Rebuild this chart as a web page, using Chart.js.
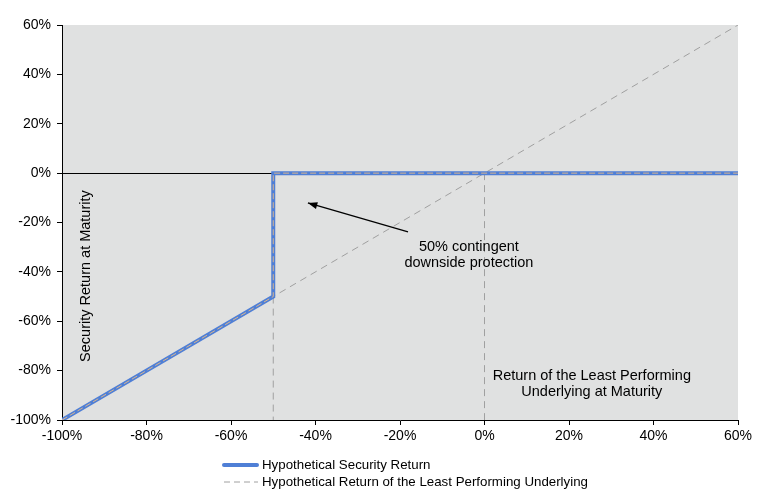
<!DOCTYPE html>
<html>
<head>
<meta charset="utf-8">
<script src="https://cdn.jsdelivr.net/npm/chart.js@4.4.1/dist/chart.umd.min.js"></script>
<style>
  html, body { margin: 0; padding: 0; background: #fff; }
  #wrap { width: 768px; height: 490px; position: relative; }
</style>
</head>
<body>
<div id="wrap"><canvas id="chart"></canvas></div>
<script>
// values (percent)
const tickValues = [-100, -80, -60, -40, -20, 0, 20, 40, 60];
const securityX = [-100, -50, -50, 60];
const securityY = [-100, -50, 0, 0];
const underlyingX = [-100, 60];
const underlyingY = [-100, 60];
const barrierX = [-50, -50];
const barrierY = [-50, -100];
const strikeX = [0, 0];
const strikeY = [0, -100];

const seriesLabels = ['Hypothetical Security Return', 'Hypothetical Return of the Least Performing Underlying'];

const FONT = '"Liberation Sans", Arial, sans-serif';
const pts = (xs, ys) => xs.map((x, i) => ({ x: x, y: ys[i] }));

const plotBg = {
    id: 'plotBg',
    beforeDraw(chart) {
        const { ctx, chartArea: a } = chart;
        ctx.save();
        ctx.fillStyle = '#e0e1e1';
        ctx.fillRect(a.left, a.top, a.right - a.left, a.bottom - a.top);
        ctx.restore();
    }
};

const notes = {
    id: 'notes',
    afterDatasetsDraw(chart) {
        const { ctx, scales: { x, y } } = chart;
        ctx.save();
        ctx.fillStyle = '#000';
        ctx.font = '14.5px ' + FONT;
        ctx.textAlign = 'center';
        ctx.textBaseline = 'middle';
        // arrow
        const x0 = x.getPixelForValue(-18.1), y0 = y.getPixelForValue(-23.8);
        const x1 = x.getPixelForValue(-41.8), y1 = y.getPixelForValue(-12.1);
        ctx.strokeStyle = '#000';
        ctx.lineWidth = 1.3;
        ctx.beginPath(); ctx.moveTo(x0, y0); ctx.lineTo(x1, y1); ctx.stroke();
        const ang = Math.atan2(y1 - y0, x1 - x0);
        ctx.beginPath();
        ctx.moveTo(x1, y1);
        ctx.lineTo(x1 - 10 * Math.cos(ang - 0.35), y1 - 10 * Math.sin(ang - 0.35));
        ctx.lineTo(x1 - 10 * Math.cos(ang + 0.35), y1 - 10 * Math.sin(ang + 0.35));
        ctx.closePath(); ctx.fill();

        const cx = x.getPixelForValue(-3.7);
        ctx.fillText('50% contingent', cx, 247);
        ctx.fillText('downside protection', cx, 263);

        const rx = x.getPixelForValue(25.4);
        ctx.fillText('Return of the Least Performing', rx, 376);
        ctx.fillText('Underlying at Maturity', rx, 392);

        ctx.translate(x.getPixelForValue(-94.3), y.getPixelForValue(-41.7));
        ctx.rotate(-Math.PI / 2);
        ctx.fillText('Security Return at Maturity', 0, 0);
        ctx.restore();
    }
};

const bottomLegend = {
    id: 'bottomLegend',
    afterDraw(chart) {
        const ctx = chart.ctx;
        ctx.save();
        ctx.font = '13.3px ' + FONT;
        ctx.textBaseline = 'middle';
        ctx.fillStyle = '#000';
        // security
        ctx.strokeStyle = '#4f7fd6';
        ctx.lineWidth = 4;
        ctx.lineCap = 'round';
        ctx.beginPath(); ctx.moveTo(224, 465); ctx.lineTo(257, 465); ctx.stroke();
        ctx.fillText(seriesLabels[0], 262, 465);
        // underlying
        ctx.strokeStyle = '#a0a0a0';
        ctx.lineWidth = 1;
        ctx.lineCap = 'butt';
        ctx.setLineDash([6, 4]);
        ctx.beginPath(); ctx.moveTo(224, 482); ctx.lineTo(258, 482); ctx.stroke();
        ctx.fillText(seriesLabels[1], 262, 482);
        ctx.restore();
    }
};

new Chart(document.getElementById('chart'), {
    type: 'scatter',
    data: {
        datasets: [
            // first dataset is painted last (on top)
            { label: 'inner', data: pts(securityX, securityY), showLine: true, borderColor: '#d8b58e', borderWidth: 1, borderDash: [6, 3], pointRadius: 0 },
            { label: seriesLabels[0], data: pts(securityX, securityY), showLine: true, borderColor: '#4f7fd6', borderWidth: 4, pointRadius: 0 },
            { label: seriesLabels[1], data: pts(underlyingX, underlyingY), showLine: true, borderColor: '#a0a0a0', borderWidth: 1, borderDash: [7, 5], pointRadius: 0 },
            { label: 'barrier', data: pts(barrierX, barrierY), showLine: true, borderColor: '#a0a0a0', borderWidth: 1, borderDash: [7, 5], pointRadius: 0 },
            { label: 'strike', data: pts(strikeX, strikeY), showLine: true, borderColor: '#a0a0a0', borderWidth: 1, borderDash: [7, 5], pointRadius: 0 }
        ]
    },
    options: {
        responsive: true,
        maintainAspectRatio: false,
        animation: false,
        layout: { padding: { top: 25, right: 30, bottom: 40, left: 0 } },
        plugins: { legend: { display: false }, tooltip: { enabled: false } },
        scales: {
            x: {
                type: 'linear', min: -100, max: 60,
                afterBuildTicks: s => { s.ticks = tickValues.map(v => ({ value: v })); },
                afterFit: s => { s.height = 30; },
                border: { color: '#000', width: 1 },
                grid: { drawOnChartArea: false, color: '#000', tickLength: 5 },
                ticks: { color: '#000', font: { family: FONT, size: 14 }, padding: 3, maxRotation: 0, callback: v => v + '%' }
            },
            y: {
                type: 'linear', min: -100, max: 60,
                afterBuildTicks: s => { s.ticks = tickValues.map(v => ({ value: v })); },
                afterFit: s => { s.width = 62; },
                border: { color: '#000', width: 1 },
                grid: { color: c => c.tick && c.tick.value === 0 ? '#000' : 'rgba(0,0,0,0)', tickColor: '#000', tickLength: 5, lineWidth: 1 },
                ticks: { color: '#000', font: { family: FONT, size: 14 }, padding: 6, callback: v => v + '%' }
            }
        }
    },
    plugins: [plotBg, notes, bottomLegend]
});
</script>
</body>
</html>
